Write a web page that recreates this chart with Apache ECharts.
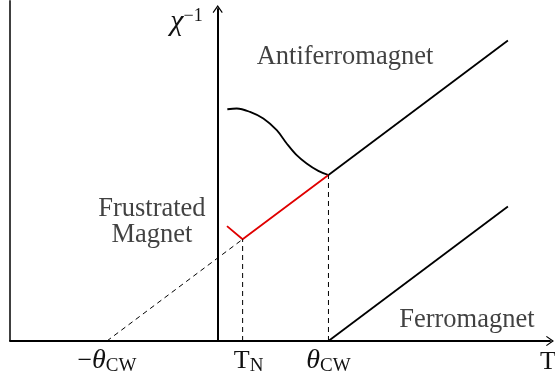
<!DOCTYPE html>
<html>
<head>
<meta charset="utf-8">
<script src="https://cdn.jsdelivr.net/npm/echarts@6/dist/echarts.min.js"></script>
<style>
  html, body { margin: 0; padding: 0; background: #fff; }
  #chart { width: 555px; height: 381px; }
</style>
</head>
<body>
<div id="chart"></div>
<script>
// Temperature axis: values in units of theta_CW
const tickValues = [-1, 0.225, 1];
const tickLabels = ['{n|−}{i|θ}{s|CW}', '{g|}{n|T}{s|N}', '{i|θ}{s|CW}'];

// Antiferromagnet: smooth low-temperature curve ending at theta_CW
const afmCurveT   = [0.087, 0.172, 0.292, 0.412, 0.533, 0.623, 0.713, 0.803, 0.908, 1.0];
const afmCurveChi = [2.094, 2.101, 2.070, 2.010, 1.905, 1.785, 1.679, 1.604, 1.537, 1.5];

// Antiferromagnet Curie-Weiss line above theta_CW
const afmLineT   = [1.0, 2.62];
const afmLineChi = [1.5, 2.715];

// Ferromagnet Curie-Weiss line
const fmLineT   = [1.0, 2.62];
const fmLineChi = [0.0, 1.215];

// Frustrated magnet (red): ordering dip at T_N, then Curie-Weiss line
const frusT   = [0.084, 0.225, 1.0];
const frusChi = [1.038, 0.919, 1.5];

// Dashed extrapolation of the frustrated line down to -theta_CW
const extrapT   = [-1, 0.225];
const extrapChi = [0, 0.919];

// Dashed drop lines at T_N and theta_CW
const dropT   = [0.225, 1.0];
const dropChi = [0.919, 1.5];

// Region names
const regionNames = ['Antiferromagnet', 'Ferromagnet', 'Frustrated\nMagnet'];
const regionT     = [1.149, 2.25, -0.594];
const regionChi   = [2.564, 0.19, 1.075];

const xMin = -1.875, xMax = 3.0, yMin = 0, yMax = 3.0;

const pairs = (xs, ys) => xs.map((x, i) => [x, ys[i]]);
const serif = "'Liberation Serif', 'Times New Roman', serif";
const ink = '#111';
const ARROW = 'path://M5,0 L10,7.2 L9.1,7.9 L5,2.1 L0.9,7.9 L0,7.2 Z';

const solid = (w, c) => ({ width: w, color: c, type: 'solid' });
const dashed = { width: 1, color: '#000', type: [5, 4] };

const series = [
  { type: 'line', data: pairs(afmCurveT, afmCurveChi), smooth: 0.35, showSymbol: false, lineStyle: solid(1.8, '#000') },
  { type: 'line', data: pairs(afmLineT, afmLineChi), showSymbol: false, lineStyle: solid(1.8, '#000') },
  { type: 'line', data: pairs(fmLineT, fmLineChi), showSymbol: false, lineStyle: solid(1.8, '#000') },
  { type: 'line', data: pairs(frusT, frusChi), showSymbol: false, lineStyle: solid(1.8, '#e00000') },
  { type: 'line', data: pairs(extrapT, extrapChi), showSymbol: false, lineStyle: dashed },
  // left frame edge
  { type: 'line', data: [[xMin, 0], [xMin, 3.08]], showSymbol: false, clip: false, lineStyle: solid(1.5, '#000') },
  {
    type: 'scatter', symbolSize: 0, silent: true,
    data: regionNames.map((n, i) => ({ value: [regionT[i], regionChi[i]], name: n })),
    label: {
      show: true, position: 'inside', formatter: p => p.name,
      fontFamily: serif, fontSize: 26.5, lineHeight: 26, color: ink, align: 'center'
    }
  }
];
dropT.forEach((t, i) => series.push({
  type: 'line', data: [[t, 0], [t, dropChi[i]]], showSymbol: false, lineStyle: dashed
}));

const chart = echarts.init(document.getElementById('chart'), null, { renderer: 'canvas' });
chart.setOption({
  animation: false,
  backgroundColor: '#fff',
  textStyle: { fontFamily: serif, color: ink },
  grid: { left: 10, right: 5, top: 9, bottom: 40, containLabel: false, outerBoundsMode: 'none' },
  xAxis: {
    type: 'value', min: xMin, max: xMax,
    name: 'T', nameLocation: 'end', nameGap: -2,
    nameTextStyle: { fontFamily: serif, fontSize: 26, color: ink, align: 'center', verticalAlign: 'top', padding: [8, 0, 0, 0] },
    axisLine: { show: true, onZero: true, symbol: ['none', ARROW], symbolSize: [11, 8], lineStyle: { color: '#000', width: 2 } },
    axisTick: { show: false },
    splitLine: { show: false },
    axisLabel: {
      customValues: tickValues,
      margin: 5,
      formatter: v => tickLabels[tickValues.indexOf(v)] || '',
      rich: {
        g: { width: 12 },
        n: { fontFamily: serif, fontSize: 26, color: ink, lineHeight: 30, verticalAlign: 'middle' },
        i: { fontFamily: serif, fontStyle: 'italic', fontSize: 28, color: ink, lineHeight: 30, verticalAlign: 'middle' },
        s: { fontFamily: serif, fontSize: 19, color: ink, lineHeight: 30, verticalAlign: 'bottom' }
      }
    }
  },
  yAxis: {
    type: 'value', min: yMin, max: yMax,
    name: '{i|χ}{p|−1}', nameLocation: 'end', nameGap: 2,
    nameTextStyle: {
      fontFamily: serif, color: ink,
      align: 'right', verticalAlign: 'top', padding: [0, 15, 0, 0],
      rich: {
        i: { fontFamily: serif, fontStyle: 'italic', fontSize: 30, color: ink, lineHeight: 30, verticalAlign: 'middle' },
        p: { fontFamily: serif, fontSize: 18, color: ink, lineHeight: 30, verticalAlign: 'top' }
      }
    },
    axisLine: { show: true, onZero: true, symbol: ['none', ARROW], symbolSize: [11, 8], lineStyle: { color: '#000', width: 2 } },
    axisTick: { show: false },
    axisLabel: { show: false },
    splitLine: { show: false }
  },
  series
});
</script>
</body>
</html>
